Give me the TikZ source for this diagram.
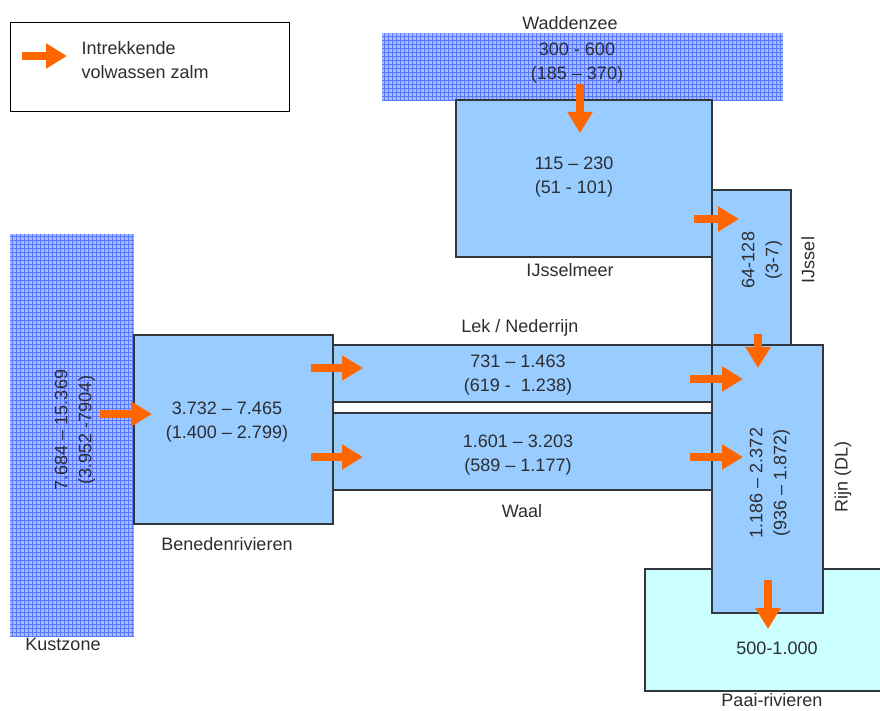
\documentclass[tikz,border=0pt]{standalone}
\usepackage{fontspec}
\setmainfont{Liberation Sans}
\usetikzlibrary{arrows.meta}
\definecolor{riverblue}{RGB}{153,204,255}
\definecolor{paaicyan}{RGB}{204,255,255}
\definecolor{seafill}{RGB}{165,188,255}
\definecolor{seagrid}{RGB}{90,120,255}
\definecolor{salmon}{RGB}{255,102,0}
\definecolor{edgegray}{RGB}{50,55,60}
\definecolor{txtgray}{RGB}{45,45,50}

\begin{document}
\begin{tikzpicture}[x=1pt, y=-1pt, every node/.style={font=\fontsize{18}{24}\selectfont, text=txtgray, align=center},
  area/.style={draw=edgegray, line width=1.3pt, fill=riverblue, inner sep=0pt},
  sea/.style={inner sep=0pt, fill=seafill},
  seamesh/.style={draw=seagrid, line width=0.7pt, step=4pt},
  flow/.style={draw=salmon, line width=8pt, -{Triangle[length=21pt,width=24pt]}}]
\useasboundingbox (0,0) rectangle (880,711);
% legend
\node[draw=black, line width=1pt, fill=white, inner sep=0pt, minimum width=279pt, minimum height=89pt] (legend) at (149.5,67.5) {};
\node[anchor=west, align=left] (legtxt) at (78,60) {Intrekkende\\volwassen zalm};
% water bodies
\node[sea, minimum width=401pt, minimum height=67pt] (wad) at (582.5,66.5) {};
\node[sea, minimum width=124pt, minimum height=402pt] (kust) at (72,435) {};
\draw[seamesh] (wad.north west) grid (wad.south east);
\draw[seamesh] (kust.north west) grid (kust.south east);
\node[area, fill=paaicyan, minimum width=239pt, minimum height=122pt] (paai) at (764.5,630) {};
\node[area, minimum width=256pt, minimum height=157pt] (ijm) at (584,178.5) {};
\node[area, minimum width=79pt, minimum height=155pt] (ijssel) at (751.5,267.5) {};
\node[area, minimum width=379pt, minimum height=57pt] (lek) at (522.5,373.5) {};
\node[area, minimum width=379pt, minimum height=77pt] (waal) at (522.5,451.5) {};
\node[area, minimum width=199pt, minimum height=189pt] (bene) at (233.5,429.5) {};
\node[area, minimum width=111pt, minimum height=268pt] (rijn) at (767.5,479) {};
% numbers
\node (wadval) at (577,63) {300 - 600\\(185 – 370)};
\node (ijmval) at (574,177) {115 – 230\\ (51 - 101)};
\node[rotate=90] (ijsval) at (762,260) {64-128\\(3-7)};
\node[rotate=90] (kustval) at (75,430) {7.684 – 15.369\\(3.952 -7904)};
\node (beneval) at (227,422) {3.732 – 7.465\\(1.400 – 2.799)};
\node (lekval) at (518,375) {731 – 1.463\\(619 -\ \ 1.238)};
\node (waalval) at (518,455) {1.601 – 3.203\\(589 – 1.177)};
\node[rotate=90] (rijnval) at (770,483) {1.186 – 2.372\\(936 – 1.872)};
\node (paaival) at (777,648) {500-1.000};
% names
\node (wadname) at (570,23) {Waddenzee};
\node (ijmname) at (570,270) {IJsselmeer};
\node[rotate=90] (ijsname) at (808,260) {IJssel};
\node (kustname) at (63,644) {Kustzone};
\node (benename) at (227,544) {Benedenrivieren};
\node (lekname) at (520,328) {Lek / Nederrijn};
\node (waalname) at (522,511) {Waal};
\node[rotate=90] (rijnname) at (843,477) {Rijn (DL)};
\node (paainame) at (772,700) {Paai-rivieren};
% migrating salmon
\foreach \n/\a/\b in {leg/{22,56}/{67,56}, wad/{580,84}/{580,133}, ijm/{694,219}/{739,219},
  ijs/{758,334}/{758,368}, kust/{100,414}/{152,414}, lek/{311,368}/{363,368}, waal/{311,457}/{363,457},
  lekr/{690,379}/{743,379}, waalr/{690,457}/{743,457}, rijn/{768,580}/{768,629}}
{
  \coordinate (\n-s) at (\a);
  \coordinate (\n-e) at (\b);
  \draw[flow] (\n-s) -- (\n-e);
}
\end{tikzpicture}
\end{document}
